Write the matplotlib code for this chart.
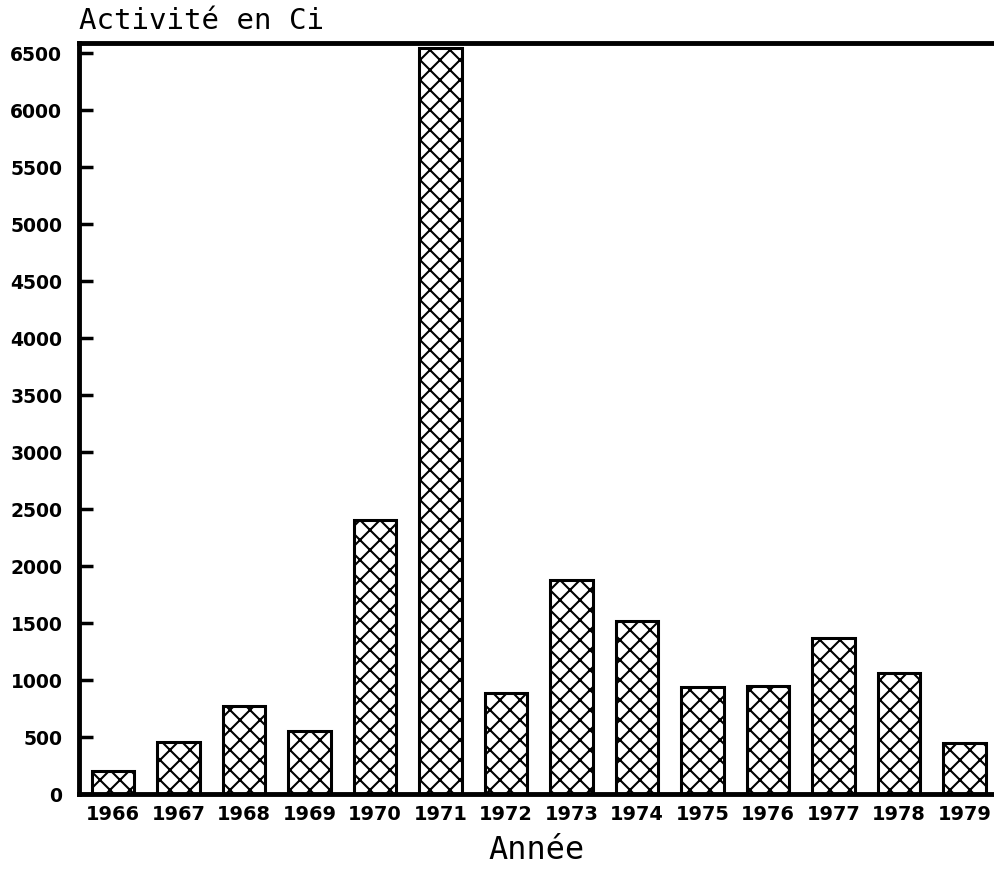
"""
Activité annuelle en Ci, 1966-1979 (bar chart with cross hatching)
"""

import numpy as np
import matplotlib
matplotlib.use('Agg')
import matplotlib.pyplot as plt

# data
years = ['1966', '1967', '1968', '1969', '1970', '1971', '1972',
         '1973', '1974', '1975', '1976', '1977', '1978', '1979']
activity = [205, 455, 775, 550, 2405, 6545, 890,
            1875, 1520, 935, 950, 1370, 1060, 450]
y_ticks = [0, 500, 1000, 1500, 2000, 2500, 3000, 3500,
           4000, 4500, 5000, 5500, 6000, 6500]

# dpi chosen so that 'xx' hatch gives ~10 px diamonds like the scan;
# all sizes below are written for dpi 100 and scaled back by s
DPI = 120
s = 100.0 / DPI

plt.rcParams['hatch.linewidth'] = 1.5 * s

fig = plt.figure(figsize=(994 / DPI, 872 / DPI), dpi=DPI)
ax = fig.add_axes([0.0795, 0.0894, 0.9205, 0.8613])

x = np.arange(len(years))
ax.bar(x, activity, width=0.65, color='white', edgecolor='black',
       linewidth=2.2 * s, hatch='xx')

ax.set_xlim(-0.52, 13.45)
ax.set_ylim(0, 6590)
ax.set_yticks(y_ticks)
ax.set_yticklabels([str(v) for v in y_ticks], fontsize=13.5 * s, fontweight='bold')
ax.set_xticks(x)
ax.set_xticklabels(years, fontsize=14 * s, fontweight='bold')

ax.tick_params(axis='y', direction='in', length=10 * s, width=2.5 * s, pad=12 * s)
ax.tick_params(axis='x', length=0, pad=8 * s)

ax.spines['right'].set_visible(False)
for side in ['left', 'top', 'bottom']:
    ax.spines[side].set_linewidth(3.5 * s)

# axis titles
ax.text(0.0, 1.01, 'Activité en Ci', transform=ax.transAxes,
        fontsize=21 * s, family='DejaVu Sans Mono', ha='left', va='bottom')
ax.set_xlabel('Année', fontsize=23 * s, family='DejaVu Sans Mono', labelpad=8 * s)

fig.savefig('out.png', dpi=DPI)
